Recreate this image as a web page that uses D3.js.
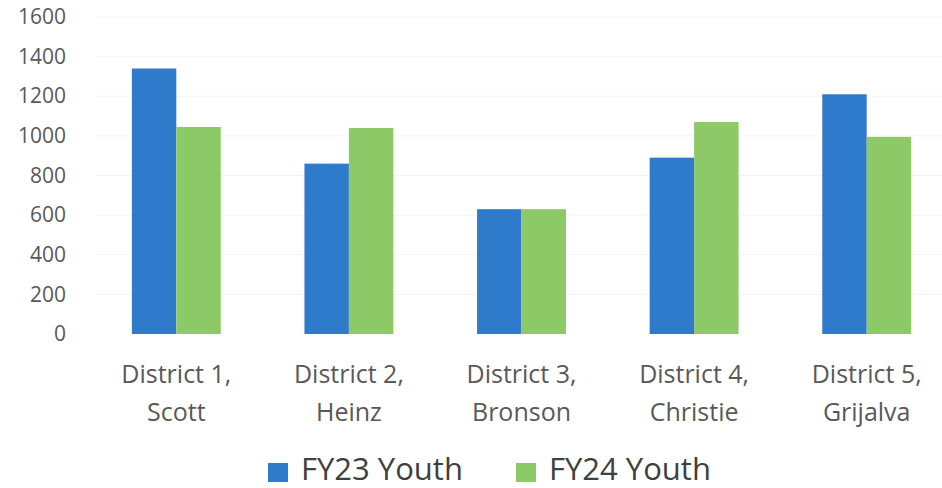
<!DOCTYPE html>
<html>
<head>
    <meta charset="utf-8">
    <title>Youth by District</title>
    <script src="https://cdn.jsdelivr.net/npm/d3@7"></script>
    <style>
        body { margin: 0; background: #fff; }
        text { font-family: "Open Sans", sans-serif; }
    </style>
</head>
<body>
    <div id="chart_div"></div>
    <script>
        // chart values
        const districts = ["District 1,|Scott", "District 2,|Heinz", "District 3,|Bronson", "District 4,|Christie", "District 5,|Grijalva"];
        const seriesNames = ["FY23 Youth", "FY24 Youth"];
        const fy23 = [1340, 860, 630, 890, 1210];
        const fy24 = [1045, 1040, 630, 1070, 995];
        const yTicks = [0, 200, 400, 600, 800, 1000, 1200, 1400, 1600];

        const width = 942, height = 488;
        const colors = ["#2f7bcb", "#8dc966"];

        const svg = d3.select("#chart_div").append("svg")
            .attr("width", width)
            .attr("height", height);

        const x = d3.scaleBand()
            .domain(districts)
            .range([90, 953])
            .paddingInner(0.485)
            .paddingOuter(0.2425);

        const xSub = d3.scaleBand()
            .domain(seriesNames)
            .range([0, x.bandwidth()]);

        const y = d3.scaleLinear()
            .domain([0, 1600])
            .range([334, 17]);

        // gridlines
        svg.append("g")
            .selectAll("line")
            .data(yTicks.slice(1))
            .enter().append("line")
            .attr("x1", 96)
            .attr("x2", width)
            .attr("y1", d => y(d))
            .attr("y2", d => y(d))
            .attr("stroke", "#f2f2f2")
            .attr("stroke-width", 1);

        // y axis labels
        const yAxis = svg.append("g")
            .attr("transform", "translate(66,0)")
            .call(d3.axisLeft(y).tickValues(yTicks).tickFormat(d3.format("d")).tickSize(0).tickPadding(0));
        yAxis.select(".domain").remove();
        yAxis.selectAll("text")
            .attr("font-family", "Open Sans")
            .attr("font-size", 21)
            .attr("fill", "#595959");

        // bars
        const rows = districts.map((d, i) => ({ district: d, values: [fy23[i], fy24[i]] }));
        svg.append("g")
            .selectAll("g")
            .data(rows)
            .enter().append("g")
            .attr("transform", d => `translate(${x(d.district)},0)`)
            .selectAll("rect")
            .data(d => d.values.map((v, j) => ({ key: seriesNames[j], value: v, idx: j })))
            .enter().append("rect")
            .attr("x", d => xSub(d.key))
            .attr("width", xSub.bandwidth())
            .attr("y", d => y(d.value))
            .attr("height", d => y(0) - y(d.value))
            .attr("fill", d => colors[d.idx]);

        // category labels (two lines)
        const cat = svg.append("g")
            .selectAll("text")
            .data(districts)
            .enter().append("text")
            .attr("text-anchor", "middle")
            .attr("font-size", 25)
            .attr("fill", "#595959")
            .attr("transform", d => `translate(${x(d) + x.bandwidth() / 2},0)`);
        cat.append("tspan")
            .attr("x", 0).attr("y", 383)
            .text(d => d.split("|")[0]);
        cat.append("tspan")
            .attr("x", 0).attr("y", 421)
            .text(d => d.split("|")[1]);

        // legend
        const legendX = [268, 516];
        const legend = svg.append("g")
            .selectAll("g")
            .data(seriesNames)
            .enter().append("g")
            .attr("transform", (d, i) => `translate(${legendX[i]},0)`);
        legend.append("rect")
            .attr("x", 0).attr("y", 463)
            .attr("width", 20).attr("height", 19)
            .attr("fill", (d, i) => colors[i]);
        legend.append("text")
            .attr("x", 33).attr("y", 480)
            .attr("font-size", 31)
            .attr("fill", "#404040")
            .text(d => d);
    </script>
</body>
</html>
